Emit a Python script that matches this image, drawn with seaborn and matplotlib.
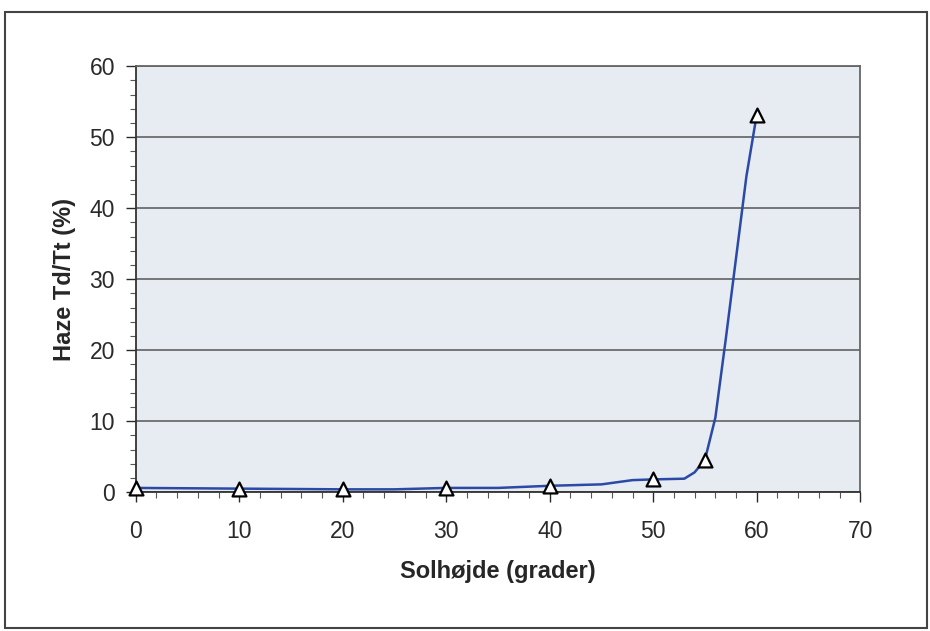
import pandas as pd
import matplotlib.pyplot as plt
import seaborn as sns
from matplotlib.patches import Rectangle
from matplotlib.ticker import MultipleLocator

sns.set_style('white')
plt.rcParams['font.family'] = ['Liberation Sans', 'DejaVu Sans']

# målte punkter (markører)
solhojde = [0, 10, 20, 30, 40, 50, 55, 60]
haze = [0.6, 0.5, 0.4, 0.6, 0.9, 1.8, 4.6, 53.2]

# udglattet kurve
kurve_x = [0, 10, 20, 25, 30, 35, 40, 45, 48, 50, 53, 54, 55, 56, 57, 58, 59, 60]
kurve_y = [0.6, 0.5, 0.4, 0.4, 0.6, 0.6, 0.9, 1.1, 1.7, 1.8, 1.9, 2.8, 4.6, 10.5, 21.5, 33.0, 44.5, 53.2]

df_pkt = pd.DataFrame({'x': solhojde, 'y': haze})
df_kurve = pd.DataFrame({'x': kurve_x, 'y': kurve_y})

fig = plt.figure(figsize=(9.3, 6.31), dpi=100)
ax = fig.add_axes([0.146, 0.22, 0.779, 0.675])
ax.set_facecolor('#e7ebf2')

sns.lineplot(data=df_kurve, x='x', y='y', ax=ax, color='#2b4aa6', linewidth=1.8, zorder=3)
sns.scatterplot(data=df_pkt, x='x', y='y', ax=ax, marker='^', s=100,
                facecolor='white', edgecolor='black', linewidth=1.6, zorder=4, clip_on=False)

ax.set_xlim(0, 70)
ax.set_ylim(0, 60)
ax.xaxis.set_major_locator(MultipleLocator(10))
ax.xaxis.set_minor_locator(MultipleLocator(2))
ax.yaxis.set_major_locator(MultipleLocator(10))
ax.yaxis.set_minor_locator(MultipleLocator(2))
ax.yaxis.grid(True, color='#555555', linewidth=1.1)
ax.set_axisbelow(True)

ax.tick_params(which='major', direction='out', length=7, width=1, labelsize=16.5, colors='#2a2a2a')
ax.tick_params(axis='x', which='major', pad=13)
ax.tick_params(axis='y', which='major', pad=8)
ax.tick_params(which='minor', direction='out', length=4, width=0.8, colors='#555555')
ax.tick_params(axis='x', which='both', bottom=True)
ax.tick_params(axis='y', which='both', left=True)

for side in ['left', 'bottom']:
    ax.spines[side].set_color('#333333')
    ax.spines[side].set_linewidth(1.3)
for side in ['top', 'right']:
    ax.spines[side].set_color('#666666')
    ax.spines[side].set_linewidth(1.3)

ax.set_xlabel('Solhøjde (grader)', fontsize=17, fontweight='bold', labelpad=12)
ax.set_ylabel('Haze Td/Tt (%)', fontsize=17, fontweight='bold', labelpad=10)

# ramme om hele diagrammet
fig.patches.append(Rectangle((5 / 930, 3 / 631), 922 / 930, 616 / 631, transform=fig.transFigure,
                             fill=False, edgecolor='#444444', linewidth=1.5))

plt.savefig('out.png', dpi=100)
